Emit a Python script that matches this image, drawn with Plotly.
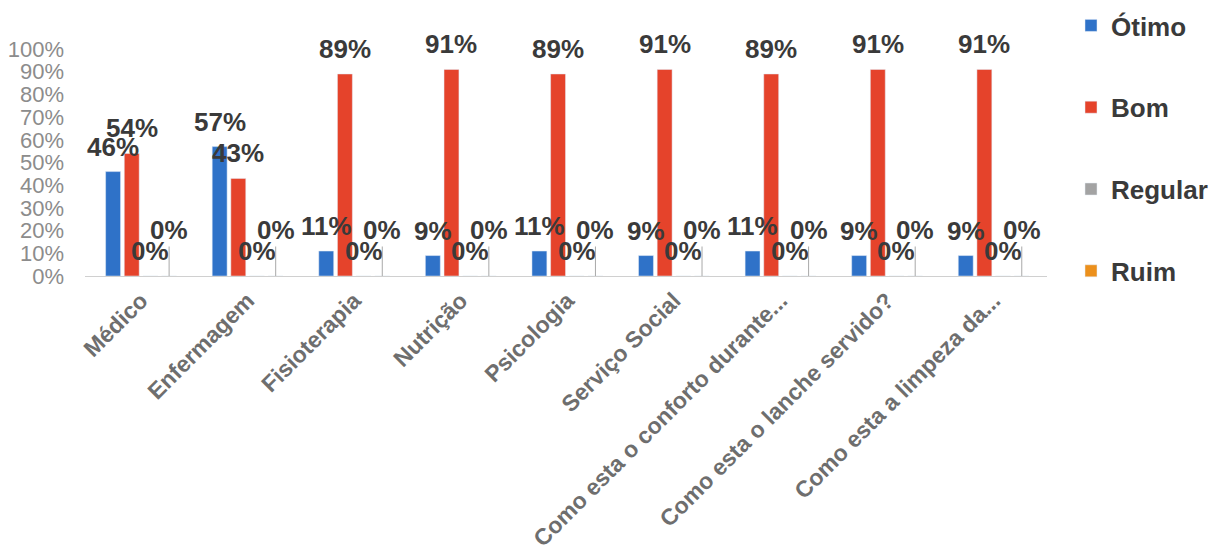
import plotly.graph_objects as go

categories = ["Médico", "Enfermagem", "Fisioterapia", "Nutrição", "Psicologia",
              "Serviço Social", "Como esta o conforto durante...",
              "Como esta o lanche servido?", "Como esta a limpeza da..."]
otimo = [0.46, 0.57, 0.11, 0.09, 0.11, 0.09, 0.11, 0.09, 0.09]
bom = [0.54, 0.43, 0.89, 0.91, 0.89, 0.91, 0.89, 0.91, 0.91]
regular = [0, 0, 0, 0, 0, 0, 0, 0, 0]
ruim = [0, 0, 0, 0, 0, 0, 0, 0, 0]

series_names = ["Ótimo", "Bom", "Regular", "Ruim"]
series_values = [otimo, bom, regular, ruim]
colors = ["#2f72c8", "#e5432b", "#a3a3a3", "#ec901c"]

# page body adds an 8px offset; figure is sized to fit the 1222x560 window
W, H = 1214, 552
ML, MR, MT, MB = 77, 175, 41, 284
BARGAP, GROUPGAP = 0.3, 0.2
FONT = "Arial, Liberation Sans, sans-serif"

fig = go.Figure()
for name, vals, col in zip(series_names, series_values, colors):
    fig.add_trace(go.Bar(name=name, x=categories, y=vals, marker_color=col,
                         legendgroup=name))

plot_w = W - ML - MR
plot_h = H - MT - MB
cat_w = plot_w / len(categories)
slot = cat_w * (1 - BARGAP) / 4
offsets = [(k - 1.5) * slot for k in range(4)]

label_font = dict(size=26, color="#3a3a3a", family=FONT, weight="bold")
annotations = []
for s, vals in enumerate(series_values):
    for c, v in zip(categories, vals):
        txt = f"{round(v * 100)}%"
        if s < 3:
            annotations.append(dict(x=c, y=v, text=txt, showarrow=False,
                                    xshift=offsets[s], yshift=25,
                                    yanchor="middle", xanchor="center",
                                    font=label_font))
        else:
            annotations.append(dict(x=c, y=v, text=txt, showarrow=True,
                                    arrowhead=0, arrowwidth=1, arrowcolor="#a8a8a8",
                                    ax=0, ay=-46, xshift=offsets[s],
                                    font=label_font))

fig.update_layout(
    width=W, height=H,
    margin=dict(l=ML, r=MR, t=MT, b=MB, autoexpand=False),
    barmode="group", bargap=BARGAP, bargroupgap=GROUPGAP,
    paper_bgcolor="#ffffff", plot_bgcolor="#ffffff",
    font=dict(family=FONT),
    annotations=annotations,
    legend=dict(xref="container", yref="paper",
                x=1063 / W, y=1 + (MT + 6) / plot_h, xanchor="left", yanchor="top",
                tracegroupgap=45, bgcolor="rgba(0,0,0,0)", maxheight=540,
                font=dict(size=26, color="#3a3a3a", family=FONT, weight="bold")),
    xaxis=dict(showline=True, linecolor="#d0d0d0", linewidth=1, ticks="",
               tickangle=-45, showgrid=False, ticklabelstandoff=1, automargin=False,
               tickfont=dict(size=23, color="#6e6e6e", family=FONT, weight="bold")),
    yaxis=dict(range=[0, 1], dtick=0.1, tickformat=".0%", showgrid=False,
               zeroline=False, showline=False, ticks="", ticklabelstandoff=20,
               automargin=False,
               tickfont=dict(size=22, color="#8c8c8c", family=FONT)),
)

fig.write_html("out.html")
